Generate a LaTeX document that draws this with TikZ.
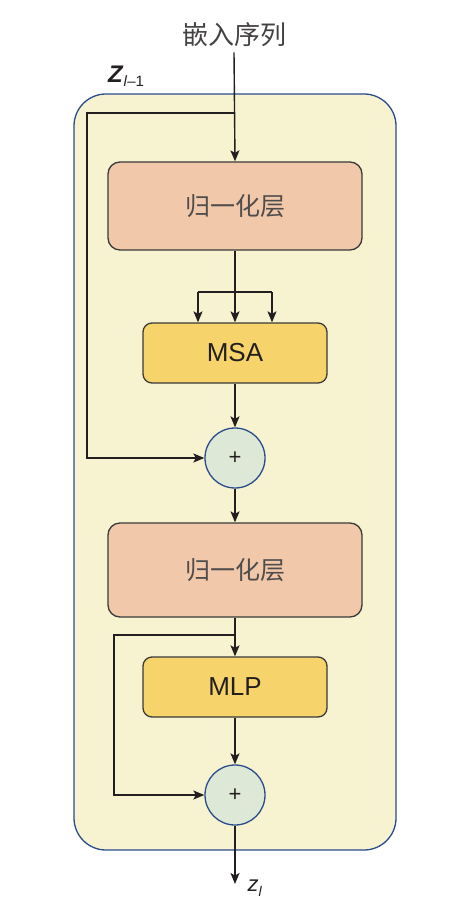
\documentclass[tikz,border=0pt]{standalone}
\usepackage{fontspec}
\setmainfont{Liberation Sans}
\newfontfamily\cjk{Noto Sans CJK SC}[Scale=1.0]
\usetikzlibrary{arrows.meta, positioning, calc}
\definecolor{panelfill}{HTML}{F7F2D0}
\definecolor{panelline}{HTML}{2B4C8C}
\definecolor{normfill}{HTML}{F2C8AA}
\definecolor{blockfill}{HTML}{F7D46B}
\definecolor{addfill}{HTML}{DDE9D6}
\definecolor{boxline}{HTML}{3A3A3A}
\definecolor{inkdark}{HTML}{231F20}

\begin{document}
\begin{tikzpicture}[
  x=1pt, y=-1pt,
  >={Stealth[length=11pt, width=9pt, inset=2.5pt]},
  normbox/.style={
    draw=boxline, line width=1.3pt, fill=normfill, rounded corners=12pt,
    minimum width=254pt, minimum height=88pt, inner sep=0pt,
    font=\cjk\fontsize{25}{28}\selectfont, text=inkdark!80
  },
  layerbox/.style={
    draw=boxline, line width=1.3pt, fill=blockfill, rounded corners=9pt,
    minimum width=184pt, minimum height=60pt, inner sep=0pt,
    font=\fontsize{26}{28}\selectfont, text=inkdark
  },
  addnode/.style={
    circle, draw=panelline, line width=1.3pt, fill=addfill,
    minimum size=60pt, inner sep=0pt, font=\fontsize{22}{24}\selectfont, text=inkdark
  },
  arr/.style={->, line width=1.4pt, inkdark},
  wire/.style={line width=1.4pt, inkdark},
]

\useasboundingbox (0,0) rectangle (451,901);

% Panel
\fill[panelfill, rounded corners=32pt] (74,94) rectangle (396,850);
\draw[panelline, rounded corners=32pt, line width=1.3pt] (74,94) rectangle (396,850);

% Input label
\node[font=\cjk\fontsize{26}{28}\selectfont, text=inkdark!85, inner sep=5pt] (seq) at (234,35) {嵌入序列};
\node[anchor=south west, inner sep=0pt, text=inkdark] (zin) at (108,87)
  {\fontsize{24}{26}\selectfont\textbf{\textit{Z}}\raisebox{-0.35ex}{\fontsize{15}{16}\selectfont\textit{l}–1}};

% =============================================
% Attention half
% =============================================
\node[normbox] (norma) at (235,206) {归一化层};
\node[layerbox] (msa) at (235,353) {MSA};
\node[addnode] (adda) at (235,458) {+};

\coordinate (ska) at (235,113);
\coordinate (skal) at (87,113);
\coordinate (sp) at (235,292);
\coordinate (spl) at (198,292);
\coordinate (spr) at (272,292);

\draw[arr] (seq.south) -- (norma.north);
\draw[arr] (ska) -- (skal) |- (adda.west);
\draw[wire] (norma.south) -- (sp);
\draw[wire] (spl) -- (spr);
\draw[arr] (sp) -- (msa.north);
\draw[arr] (spl) -- (spl |- msa.north);
\draw[arr] (spr) -- (spr |- msa.north);
\draw[arr] (msa.south) -- (adda.north);

% =============================================
% MLP half
% =============================================
\node[normbox, minimum height=94pt] (normb) at (235,570) {归一化层};
\node[layerbox] (mlp) at (235,687) {MLP};
\node[addnode] (addb) at (235,795) {+};

\coordinate (skb) at (235,635);
\coordinate (skbl) at (114,635);
\coordinate (zout) at (235,884);

\draw[arr] (adda.south) -- (normb.north);
\draw[arr] (normb.south) -- (mlp.north);
\draw[arr] (skb) -- (skbl) |- (addb.west);
\draw[arr] (mlp.south) -- (addb.north);
\draw[arr] (addb.south) -- (zout)
  node[anchor=west, xshift=12pt, yshift=-4pt, inner sep=0pt, text=inkdark, font=\fontsize{22}{24}\selectfont]
  {\textit{z}\raisebox{-0.45ex}{\fontsize{14}{15}\selectfont\textit{l}}};

\end{tikzpicture}
\end{document}
